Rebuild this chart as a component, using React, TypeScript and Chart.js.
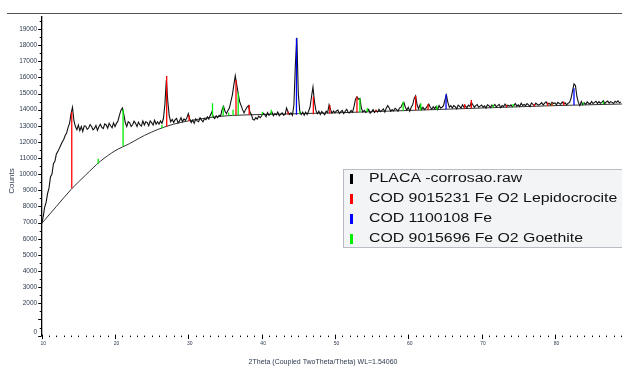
import React, { useEffect, useRef } from 'react';
import { Chart, registerables } from 'chart.js';

Chart.register(...registerables);

// ---- raw diffractogram (2θ start/step + counts) ----
const RAW_START = 10;
const RAW_STEP = 0.2;
const rawCounts: number[] = [
  // 10.0
  6950, 7350, 7950, 8250, 8800, 9150, 9850, 10000, 10650, 10800,
  // 12.0
  11250, 11400, 11600, 11800, 12000, 12150, 12400, 12550, 12900, 13150,
  // 14.0
  13750, 14150, 13300, 12950, 12750, 13050, 12700, 12950, 12650, 13000,
  // 16.0
  12980, 12780, 12860, 13080, 12960, 12750, 12840, 13020, 12720, 12940,
  // 18.0
  13100, 12900, 12830, 13120, 13050, 12850, 13150, 13000, 12880, 13180,
  // 20.0
  12950, 13150, 13300, 13650, 13950, 14100, 13700, 13200, 12950, 13250,
  // 22.0
  13180, 12960, 13060, 13280, 13150, 12950, 13230, 13050, 12980, 13300,
  // 24.0
  13050, 13250, 13200, 13000, 13300, 13180, 13050, 13350, 13100, 13250,
  // 26.0
  13100, 13300, 13150, 13450, 14300, 15850, 14500, 13600, 13250, 13400,
  // 28.0
  13200, 13380, 13450, 13180, 13300, 13500, 13250, 13420, 13330, 13500,
  // 30.0
  13750, 13400, 13200, 13350, 13150, 13420, 13300, 13250, 13500, 13350,
  // 32.0
  13250, 13450, 13380, 13550, 13420, 13650, 13850, 13550, 13450, 13620,
  // 34.0
  13500, 13650, 13600, 14000, 14200, 13900, 13750, 13950, 14100, 14500,
  // 36.0
  14900, 15500, 16100, 15550, 15000, 14500, 14250, 14000, 13800, 14000,
  // 38.0
  14150, 14250, 13850, 13700, 13400, 13350, 13500, 13420, 13600, 13500,
  // 40.0
  13620, 13780, 13700, 13560, 13820, 13650, 13750, 13850, 13620, 13760,
  // 42.0
  13680, 13850, 13620, 13720, 13800, 13650, 13700, 14100, 13850, 13700,
  // 44.0
  13800, 13650, 14300, 16800, 18450, 15000, 13900, 13700, 13850, 13650,
  // 46.0
  13850, 13700, 13900, 14150, 14800, 15400, 14500, 13950, 13750, 13900,
  // 48.0
  13700, 13880, 13780, 13680, 13900, 13820, 14300, 14000, 13780, 13920,
  // 50.0
  13800, 13920, 13980, 13760, 13880, 13950, 13750, 13900, 14020, 13820,
  // 52.0
  13800, 13950, 13850, 14200, 14650, 14800, 14650, 14700, 14100, 13850,
  // 54.0
  13950, 13820, 13900, 14020, 13780, 13880, 14000, 13820, 13950, 13850,
  // 56.0
  14020, 13880, 13960, 14050, 13850, 14100, 14250, 14100, 13900, 14000,
  // 58.0
  13920, 14080, 14020, 13900, 14100, 14150, 14350, 14450, 14150, 13980,
  // 60.0
  14150, 13900, 14150, 14300, 14700, 14850, 14300, 14050, 14300, 14000,
  // 62.0
  14150, 14000, 14100, 14220, 14350, 14150, 14020, 14180, 14060, 14200,
  // 64.0
  14000, 14250, 14100, 14150, 14250, 14600, 14900, 14450, 14150, 14250,
  // 66.0
  14100, 14250, 14180, 14050, 14280, 14200, 14100, 14300, 14150, 14230,
  // 68.0
  14120, 14280, 14200, 14450, 14300, 14150, 14250, 14320, 14150, 14220,
  // 70.0
  14280, 14150, 14230, 14100, 14300, 14250, 14130, 14280, 14200, 14320,
  // 72.0
  14180, 14250, 14330, 14120, 14260, 14200, 14350, 14180, 14280, 14220,
  // 74.0
  14300, 14180, 14250, 14380, 14220, 14300, 14200, 14400, 14260, 14320,
  // 76.0
  14250, 14380, 14300, 14200, 14420, 14330, 14250, 14400, 14320, 14280,
  // 78.0
  14350, 14430, 14280, 14400, 14480, 14320, 14400, 14300, 14450, 14380,
  // 80.0
  14420, 14300, 14450, 14380, 14330, 14480, 14350, 14420, 14300, 14400,
  // 82.0
  14450, 14700, 15150, 15600, 15500, 14800, 14450, 14250, 14500, 14300,
  // 84.0
  14420, 14330, 14480, 14400, 14350, 14500, 14380, 14450, 14520, 14380,
  // 86.0
  14500, 14400, 14450, 14550, 14380, 14480, 14530, 14400, 14500, 14450,
  // 88.0
  14380, 14520, 14450, 14550, 14420, 14480,
];

// ---- background curve ----
const bgAngles = [10, 12, 14, 16, 18, 20, 22, 24, 26, 28, 30, 32, 34, 36, 40, 50, 60, 70, 80, 89.2];
const bgCounts = [6950, 8000, 9050, 9950, 10800, 11450, 11900, 12400, 12800, 13100, 13300, 13450, 13570, 13640, 13700, 13800, 13950, 14100, 14250, 14350];

// ---- reference sticks: COD 9015231 Lepidocrocite (red) ----
const lepPos = [14.1, 27.05, 30.1, 36.5, 38.3, 43.6, 47.05, 49.3, 53.0, 55.6, 61.0, 62.7, 67.7, 68.6, 73.4, 77.2, 79.0, 79.6, 81.2];
const lepBase = [9130, 12940, 13300, 13650, 13670, 13700, 13720, 13740, 13830, 13880, 13960, 13980, 14060, 14080, 14150, 14200, 14230, 14240, 14260];
const lepTop = [13870, 16080, 13650, 15830, 14290, 13900, 14800, 14290, 14800, 14000, 14850, 14350, 14350, 14600, 14300, 14350, 14450, 14400, 14500];

// ---- reference sticks: COD 1100108 Fe (blue) ----
const fePos = [44.75, 65.15, 82.6];
const feBase = [13680, 14030, 14290];
const feTop = [18420, 14950, 15320];

// ---- reference sticks: COD 9015696 Goethite (green) ----
const goePos = [17.7, 21.1, 26.4, 33.3, 34.75, 35.5, 36.1, 36.8, 40.1, 41.3, 45.2, 53.4, 54.4, 59.3, 61.7, 63.9, 71.6, 74.3, 79.6, 83.9, 86.6];
const goeBase = [10640, 11750, 12850, 13560, 13600, 13630, 13640, 13660, 13700, 13720, 13750, 13840, 13860, 13930, 13960, 14000, 14130, 14170, 14240, 14300, 14330];
const goeTop = [10950, 14020, 13050, 14390, 14230, 13800, 14000, 15050, 13870, 14000, 13900, 14700, 14100, 14490, 14390, 14250, 14300, 14350, 14400, 14450, 14500];

// ---- axis ticks / labels ----
const yLabelValues = [0, 2000, 3000, 4000, 5000, 6000, 7000, 8000, 9000, 10000, 11000, 12000, 13000, 14000, 15000, 16000, 17000, 18000, 19000];
const xLabelValues = [10, 20, 30, 40, 50, 60, 70, 80];

const legendLabels = [
  'PLACA -corrosao.raw',
  'COD 9015231 Fe O2 Lepidocrocite',
  'COD 1100108 Fe',
  'COD 9015696 Fe O2 Goethite',
];
const legendColors = ['#000000', '#ff0000', '#0000ff', '#00ee00'];

const xTitle = '2Theta (Coupled TwoTheta/Theta) WL=1.54060';
const yTitle = 'Counts';

function sticks(pos: number[], base: number[], top: number[]) {
  const pts: { x: number; y: number | null }[] = [];
  pos.forEach((p, i) => {
    pts.push({ x: p, y: base[i] }, { x: p, y: top[i] }, { x: p, y: null });
  });
  return pts;
}

const FONT = '"Liberation Sans", Arial, Helvetica, sans-serif';
const LABEL_COLOR = '#2d3a4f';

const decor = {
  id: 'decor',
  afterDraw(chart: any) {
    const { ctx, chartArea } = chart;
    const x = chart.scales.x;
    const y = chart.scales.y;
    ctx.save();
    // top rule
    ctx.strokeStyle = '#555';
    ctx.lineWidth = 1.2;
    ctx.beginPath();
    ctx.moveTo(7, 13.5);
    ctx.lineTo(chart.width, 13.5);
    ctx.stroke();

    // y tick marks
    ctx.strokeStyle = '#000';
    ctx.lineWidth = 1;
    for (let v = 0; v <= 19500; v += 500) {
      const py = Math.round(y.getPixelForValue(v)) + 0.5;
      const len = v % 1000 === 0 ? 3.5 : 2;
      ctx.beginPath();
      ctx.moveTo(chartArea.left - len, py);
      ctx.lineTo(chartArea.left, py);
      ctx.stroke();
    }
    // x tick marks
    for (let v = 10; v <= 89; v++) {
      const px = Math.round(x.getPixelForValue(v)) + 0.5;
      const major = v % 10 === 0;
      ctx.beginPath();
      ctx.moveTo(px, chartArea.bottom - (major ? 1 : 0));
      ctx.lineTo(px, chartArea.bottom + (major ? 3.5 : 1.5));
      ctx.stroke();
    }

    // tick labels
    ctx.fillStyle = LABEL_COLOR;
    ctx.font = `6.5px ${FONT}`;
    ctx.textAlign = 'right';
    ctx.textBaseline = 'middle';
    yLabelValues.forEach((v) => {
      const py = y.getPixelForValue(v) - (v === 0 ? 3 : 0);
      ctx.fillText(String(v), chartArea.left - 4.5, py);
    });
    ctx.font = `5px ${FONT}`;
    ctx.textAlign = 'center';
    ctx.textBaseline = 'middle';
    xLabelValues.forEach((v) => {
      ctx.fillText(String(v), x.getPixelForValue(v) + 1.5, chartArea.bottom + 8);
    });

    // axis titles
    ctx.font = `7px ${FONT}`;
    ctx.textAlign = 'center';
    ctx.textBaseline = 'middle';
    ctx.fillText(xTitle, 323, 362);
    ctx.save();
    ctx.translate(11.5, 181);
    ctx.rotate(-Math.PI / 2);
    ctx.font = `8px ${FONT}`;
    ctx.fillText(yTitle, 0, 0);
    ctx.restore();

    // legend box
    const lx = 343.5, ly = 169.5, lw = 300, lh = 78;
    ctx.fillStyle = '#f3f4f6';
    ctx.fillRect(lx, ly, lw, lh);
    ctx.strokeStyle = '#b8bdc5';
    ctx.lineWidth = 1;
    ctx.strokeRect(lx, ly, lw, lh);
    legendLabels.forEach((t, i) => {
      const cy = 179 + i * 20;
      ctx.fillStyle = legendColors[i];
      ctx.fillRect(350, cy - 5, 3, 10);
      ctx.save();
      ctx.translate(369, cy);
      ctx.scale(1.32, 1);
      ctx.font = `12px ${FONT}`;
      ctx.textAlign = 'left';
      ctx.textBaseline = 'middle';
      ctx.fillStyle = '#111';
      ctx.fillText(t, 0, 0);
      ctx.restore();
    });
    ctx.restore();
  },
};

export default function App() {
  const ref = useRef<HTMLCanvasElement | null>(null);
  useEffect(() => {
    document.body.style.margin = '0';
    const canvas = ref.current;
    if (!canvas) return;
    const raw = rawCounts.map((c, i) => ({ x: RAW_START + i * RAW_STEP, y: c }));
    const bg = bgAngles.map((a, i) => ({ x: a, y: bgCounts[i] }));
    const chart = new Chart(canvas, {
      type: 'line',
      data: {
        datasets: [
          {
            label: legendLabels[1],
            data: sticks(lepPos, lepBase, lepTop),
            borderColor: legendColors[1],
            borderWidth: 1.3,
            pointRadius: 0,
            spanGaps: false,
            order: 1,
          },
          {
            label: legendLabels[2],
            data: sticks(fePos, feBase, feTop),
            borderColor: legendColors[2],
            borderWidth: 1.3,
            pointRadius: 0,
            spanGaps: false,
            order: 1,
          },
          {
            label: legendLabels[3],
            data: sticks(goePos, goeBase, goeTop),
            borderColor: legendColors[3],
            borderWidth: 1.3,
            pointRadius: 0,
            spanGaps: false,
            order: 1,
          },
          {
            label: legendLabels[0],
            data: raw,
            borderColor: '#111',
            borderWidth: 1.1,
            pointRadius: 0,
            order: 2,
          },
          {
            label: 'Background',
            data: bg,
            borderColor: '#333',
            borderWidth: 1,
            pointRadius: 0,
            cubicInterpolationMode: 'monotone',
            order: 3,
          },
        ],
      } as any,
      options: {
        animation: false,
        responsive: false,
        devicePixelRatio: 1,
        layout: { padding: { top: 17, left: 0, right: 0, bottom: 0 } },
        plugins: { legend: { display: false }, tooltip: { enabled: false } },
        scales: {
          x: {
            type: 'linear',
            min: 10,
            max: 89.15,
            grid: { display: false, drawTicks: false },
            border: { display: false },
            ticks: { display: false },
            afterFit: (s: any) => {
              s.height = 31.4;
            },
          },
          y: {
            type: 'linear',
            min: 0,
            max: 19740,
            grid: { display: false, drawTicks: false },
            border: { display: true, color: '#000', width: 1.3 },
            ticks: { display: false },
            afterFit: (s: any) => {
              s.width = 41.7;
            },
          },
        },
      } as any,
      plugins: [decor],
    });
    return () => chart.destroy();
  }, []);
  return (
    <div style={{ width: 622, height: 367, background: '#fff' }}>
      <canvas ref={ref} width={622} height={367} />
    </div>
  );
}
